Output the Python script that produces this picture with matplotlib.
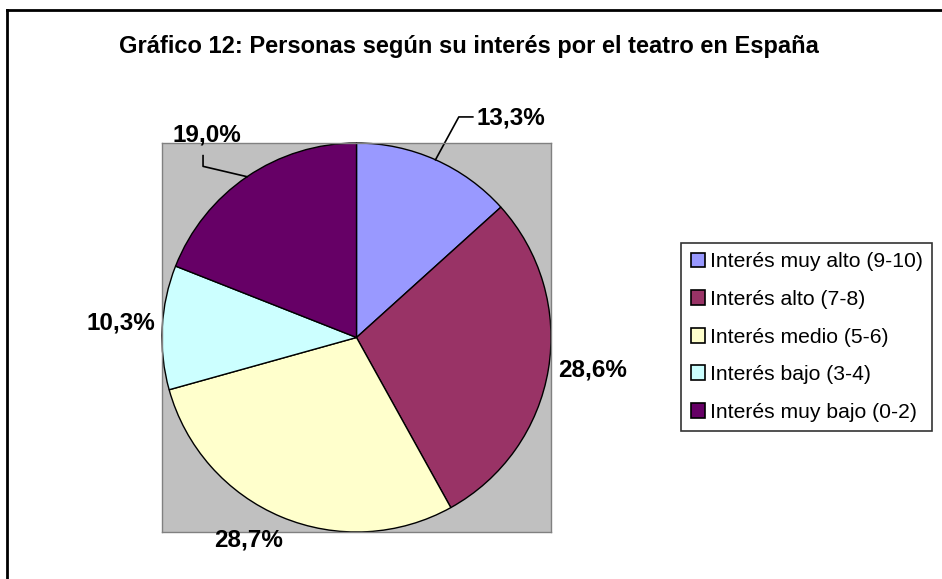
import numpy as np
import matplotlib.pyplot as plt
from matplotlib.patches import Rectangle
from matplotlib.lines import Line2D

plt.rcParams['font.family'] = ['Liberation Sans', 'DejaVu Sans']

# data
categorias = ["Interés muy alto (9-10)", "Interés alto (7-8)", "Interés medio (5-6)",
              "Interés bajo (3-4)", "Interés muy bajo (0-2)"]
porcentajes = [13.3, 28.6, 28.7, 10.3, 19.0]
colores = ["#9999FF", "#993366", "#FFFFCC", "#CCFFFF", "#660066"]
titulo = "Gráfico 12: Personas según su interés por el teatro en España"

W, H = 942, 579
fig = plt.figure(figsize=(W / 100, H / 100), dpi=100)

# outer chart frame (only top and left edges visible)
fig.add_artist(Line2D([7 / W, 7 / W], [0, 1 - 10 / H], transform=fig.transFigure,
                      color="black", lw=2))
fig.add_artist(Line2D([7 / W, 1], [1 - 10 / H, 1 - 10 / H], transform=fig.transFigure,
                      color="black", lw=2))

fig.text(469 / W, 1 - 46 / H, titulo, ha="center", va="center",
         fontsize=17, fontweight="bold")

# plot area: gray square around the pie
ax = fig.add_axes([162 / W, 1 - 532 / H, 389 / W, 389 / H])
wedges, _ = ax.pie(porcentajes, colors=colores, startangle=90, counterclock=False,
                   radius=1, frame=True,
                   wedgeprops=dict(edgecolor="black", linewidth=1))
ax.set_facecolor("#C0C0C0")
for s in ax.spines.values():
    s.set_color("#808080")
    s.set_linewidth(1)
ax.set_xticks([])
ax.set_yticks([])
ax.set_xlim(-1, 1)
ax.set_ylim(-1, 1)
ax.set_aspect("equal")

# label positions in pie units
lab_pos = [(0.794, 1.129), (1.216, -0.165), (-0.557, -1.04), (-1.21, 0.072), (-0.768, 1.04)]
for p, (lx, ly) in zip(porcentajes, lab_pos):
    txt = f"{p:.1f}%".replace(".", ",")
    ax.text(lx, ly, txt, ha="center", va="center", fontsize=17.5, fontweight="bold",
            clip_on=False)

# leader lines for the two upper labels
def edge(w):
    a = np.deg2rad((w.theta1 + w.theta2) / 2)
    return np.cos(a), np.sin(a)

x0, y0 = edge(wedges[0])
ax.plot([x0, 0.526, 0.598], [y0, 1.134, 1.134], color="black", lw=1.2, clip_on=False)
x4, y4 = edge(wedges[4])
ax.plot([x4, -0.789, -0.789], [y4, 0.88, 0.935], color="black", lw=1.2, clip_on=False)

handles = [Rectangle((0, 0), 1, 1, facecolor=c, edgecolor="black", lw=1.2) for c in colores]
leg = fig.legend(handles, categorias, loc="upper left",
                 bbox_to_anchor=(681 / W, 1 - 243 / H), fontsize=15.2,
                 frameon=True, fancybox=False, edgecolor="black",
                 handlelength=0.7, handleheight=0.7, handletextpad=0.2,
                 labelspacing=0.88, borderpad=0.45, borderaxespad=0)
leg.get_frame().set_linewidth(1.2)

fig.savefig("out.png", dpi=100)
